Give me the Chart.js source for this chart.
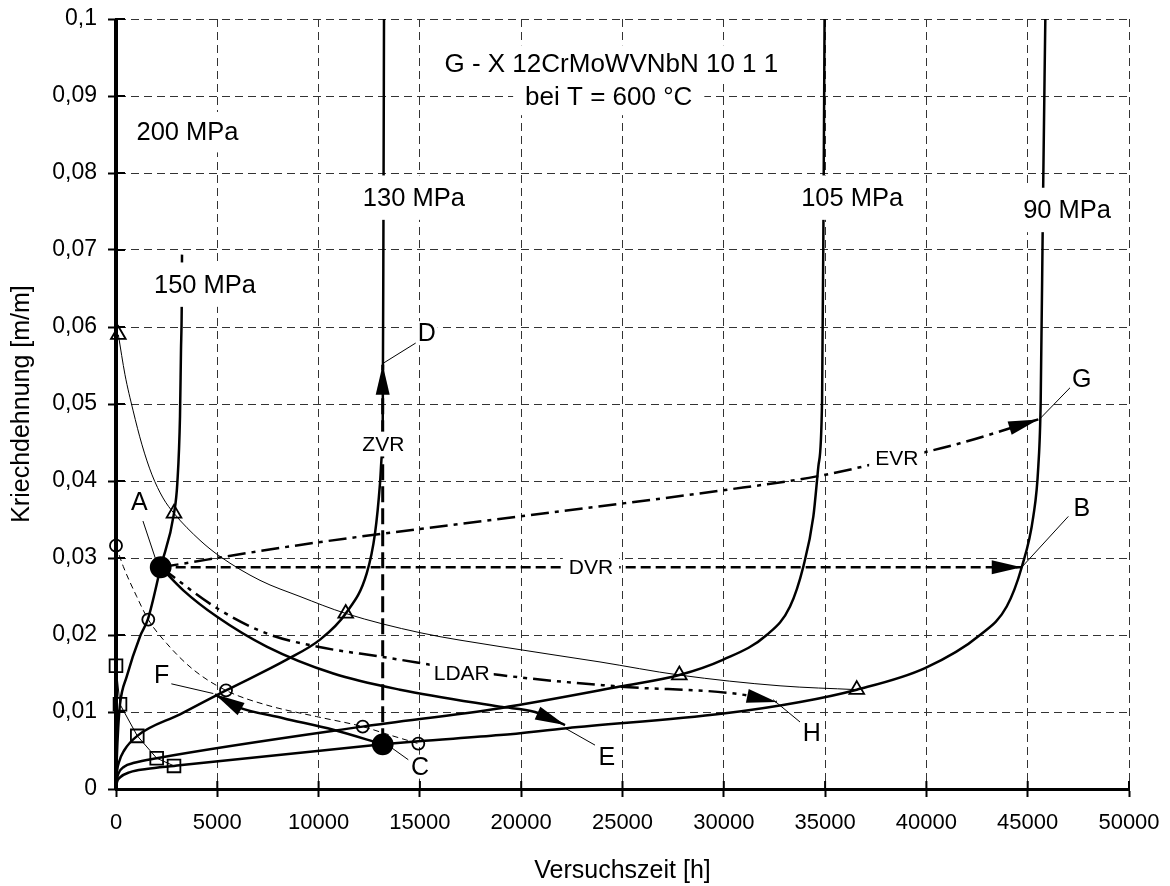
<!DOCTYPE html>
<html>
<head>
<meta charset="utf-8">
<title>Kriechkurven G - X 12CrMoWVNbN 10 1 1</title>
<script src="https://cdn.jsdelivr.net/npm/chart.js@4.4.1/dist/chart.umd.min.js"></script>
<style>
  html, body { margin: 0; padding: 0; background: #fff; }
  #chart-box { width: 1170px; height: 886px; }
</style>
</head>
<body>
<div id="chart-box"><canvas id="creepChart" width="1170" height="886"></canvas></div>
<script>
// Axis ticks
const xTickValues = [0, 5000, 10000, 15000, 20000, 25000, 30000, 35000, 40000, 45000, 50000];
const yTickValues = [0, 0.01, 0.02, 0.03, 0.04, 0.05, 0.06, 0.07, 0.08, 0.09, 0.1];

// Creep curves: [Versuchszeit h, Kriechdehnung m/m]
const curve200 = [[0, 0], [0, 0.1]];
const curve150 = [[0, 0], [40, 0.0040], [110, 0.0080], [197, 0.0110], [528, 0.0146], [1185, 0.0198], [1580, 0.0221],
  [2206, 0.0288], [2863, 0.0358], [3026, 0.0397], [3159, 0.0484], [3208, 0.0570], [3243, 0.0622], [3258, 0.0694]];
const curve130 = [[0, 0], [40, 0.0020], [150, 0.0035], [400, 0.0050], [1051, 0.0069], [3159, 0.0097], [5430, 0.0128],
  [8426, 0.0168], [10070, 0.0194], [11338, 0.0228], [12375, 0.0280], [12784, 0.0332], [13031, 0.0397],
  [13115, 0.0432], [13164, 0.0466], [13204, 0.0765], [13228, 0.1]];
const curve105 = [[0, 0], [30, 0.0010], [120, 0.0020], [400, 0.0029], [900, 0.0034], [2009, 0.0040], [12177, 0.0081],
  [18954, 0.0105], [24877, 0.0133], [27805, 0.0148], [29976, 0.0168], [32117, 0.0200], [33269, 0.0237],
  [33927, 0.0289], [34421, 0.0354], [34668, 0.0419], [34851, 0.0505], [34925, 0.0765], [34974, 0.1]];
const curve90 = [[0, 0], [40, 0.0008], [200, 0.0015], [700, 0.0022], [1500, 0.0026], [2863, 0.0030], [13164, 0.0058],
  [14922, 0.0062], [18954, 0.0070], [22247, 0.0079], [29976, 0.0098], [33770, 0.0113], [36562, 0.0129],
  [39932, 0.0157], [42647, 0.0200], [43964, 0.0237], [44705, 0.0288], [45277, 0.0354], [45524, 0.0419],
  [45642, 0.0505], [45756, 0.0765], [45870, 0.1]];

// Marker series and their thin connecting lines
const triangleMarks = [[115, 0.0590], [2863, 0.0358], [11338, 0.0228], [27805, 0.0148], [36562, 0.0129]];
const circleMarks = [[0, 0.0316], [1594, 0.0220], [5430, 0.0128], [12177, 0.0081], [14922, 0.0059]];
const squareMarks = [[0, 0.0160], [197, 0.0110], [1051, 0.0069], [2009, 0.0040], [2863, 0.0030]];
const triangleLine = [[115, 0.0590], [444, 0.0538], [839, 0.0492], [1283, 0.0447], [1777, 0.0408], [2320, 0.0378],
  [2863, 0.0358], [4146, 0.0323], [5134, 0.0302], [7108, 0.0271], [9082, 0.0250], [11338, 0.0228],
  [15005, 0.0203], [18954, 0.0185], [23890, 0.0165], [27805, 0.0148], [32775, 0.0134], [36562, 0.0129]];
const circleLine = [[0, 0.0316], [360, 0.0289], [1022, 0.0250], [1594, 0.0220], [2503, 0.0189], [3816, 0.0155],
  [5430, 0.0128], [7437, 0.0109], [9906, 0.0094], [12177, 0.0081], [13525, 0.0070], [14922, 0.0059]];

// Points A and C, and the arrows
const stateDots = [[2206, 0.0288], [13164, 0.0058]];
const dvrLine = [[2206, 0.0288], [44705, 0.0288]];
const zvrLine = [[13164, 0.0058], [13164, 0.0551]];
const evrLine = [[2206, 0.0288], [9082, 0.0317], [19941, 0.0354], [29976, 0.0388], [34586, 0.0406], [38536, 0.0429],
  [41660, 0.0449], [45525, 0.0480]];
const ldarLine = [[2206, 0.0288], [4971, 0.0235], [7437, 0.0202], [9906, 0.0185], [13031, 0.0172], [18954, 0.0148],
  [24877, 0.0133], [30800, 0.0123], [32610, 0.0113]];
const eLine = [[2206, 0.0288], [3322, 0.0258], [4971, 0.0224], [7437, 0.0185], [10726, 0.0150], [14018, 0.0129],
  [18954, 0.0107], [20681, 0.0100], [22163, 0.0083]];
const fLine = [[13164, 0.0058], [10726, 0.0077], [8258, 0.0092], [5958, 0.0107], [4887, 0.0123]];

// Text annotations (data coordinates)
const textLabels = [
  { text: 'G - X 12CrMoWVNbN 10 1 1', x: 24450, y: 0.0942, size: 26, padX: 12, padY: 8 },
  { text: 'bei T = 600 °C', x: 24320, y: 0.0899, size: 26, padX: 12, padY: 8 },
  { text: '200 MPa', x: 3529, y: 0.0853, size: 25.5, padX: 4, padY: 10 },
  { text: '150 MPa', x: 4393, y: 0.0655, size: 25.5, padX: 4, padY: 12 },
  { text: '130 MPa', x: 14700, y: 0.0768, size: 25.5, padX: 4, padY: 12 },
  { text: '105 MPa', x: 36338, y: 0.0768, size: 25.5, padX: 4, padY: 12 },
  { text: '90 MPa', x: 46944, y: 0.0752, size: 25.5, padX: 4, padY: 12 },
  { text: 'ZVR', x: 13194, y: 0.0448, size: 21, padX: 2, padY: 4 },
  { text: 'DVR', x: 23446, y: 0.0288, size: 21, padX: 6, padY: 4 },
  { text: 'EVR', x: 38536, y: 0.0429, size: 21, padX: 6, padY: 4 },
  { text: 'LDAR', x: 17064, y: 0.0150, size: 21, padX: 4, padY: 4 },
  { text: 'A', x: 1150, y: 0.0372, size: 25, padX: 2, padY: 2 },
  { text: 'B', x: 47666, y: 0.0365, size: 25, padX: 2, padY: 2 },
  { text: 'C', x: 15005, y: 0.0029, size: 25, padX: 2, padY: 2 },
  { text: 'D', x: 15336, y: 0.0592, size: 25, padX: 2, padY: 2 },
  { text: 'E', x: 24221, y: 0.0042, size: 25, padX: 2, padY: 2 },
  { text: 'F', x: 2256, y: 0.0148, size: 25, padX: 2, padY: 2 },
  { text: 'G', x: 47666, y: 0.0532, size: 25, padX: 2, padY: 2 },
  { text: 'H', x: 34339, y: 0.0072, size: 25, padX: 2, padY: 2 }
];
const leaderLines = [
  [[1331, 0.0348], [1975, 0.0297]],
  [[47005, 0.0354], [44705, 0.0288]],
  [[13525, 0.0055], [14428, 0.0038]],
  [[13194, 0.0553], [14843, 0.0580]],
  [[22163, 0.0079], [23643, 0.0057]],
  [[2665, 0.0137], [4803, 0.0124]],
  [[45610, 0.0481], [47124, 0.0522]],
  [[32430, 0.0116], [33762, 0.0087]]
];

const FONT = "'Liberation Sans', Arial, Helvetica, sans-serif";
Chart.defaults.font.family = FONT;
Chart.defaults.color = '#000';

const toXY = arr => arr.map(([x, y]) => ({ x, y }));

function lineSet(label, pts, opts) {
  return Object.assign({
    label: label,
    data: toXY(pts),
    borderColor: '#000',
    backgroundColor: '#000',
    borderWidth: 2.5,
    pointRadius: 0,
    pointHoverRadius: 0,
    fill: false,
    cubicInterpolationMode: 'monotone',
    clip: false
  }, opts || {});
}

function markSet(label, pts, style, radius, fillColor) {
  return {
    label: label,
    data: toXY(pts),
    showLine: false,
    pointStyle: style,
    pointRadius: radius,
    pointHoverRadius: radius,
    pointBackgroundColor: fillColor || 'rgba(0,0,0,0)',
    pointBorderColor: '#000',
    pointBorderWidth: 1.8,
    clip: false
  };
}

// Canvas background
const whiteBackground = {
  id: 'whiteBackground',
  beforeDraw(chart) {
    const ctx = chart.ctx;
    ctx.save();
    ctx.fillStyle = '#fff';
    ctx.fillRect(0, 0, chart.width, chart.height);
    ctx.restore();
  }
};

// Tick marks that cross the axes (inner half)
const innerTicks = {
  id: 'innerTicks',
  afterDraw(chart) {
    const { ctx, chartArea, scales } = chart;
    ctx.save();
    ctx.strokeStyle = '#000';
    ctx.lineWidth = 2;
    ctx.setLineDash([]);
    ctx.beginPath();
    xTickValues.forEach(v => {
      const px = scales.x.getPixelForValue(v);
      ctx.moveTo(px, chartArea.bottom);
      ctx.lineTo(px, chartArea.bottom - 8);
    });
    yTickValues.forEach(v => {
      const py = scales.y.getPixelForValue(v);
      ctx.moveTo(chartArea.left, py);
      ctx.lineTo(chartArea.left + 9, py);
    });
    ctx.stroke();
    ctx.restore();
  }
};

// Filled arrow heads at the end of flagged datasets
const arrowHeads = {
  id: 'arrowHeads',
  afterDatasetsDraw(chart) {
    const ctx = chart.ctx;
    ctx.save();
    ctx.fillStyle = '#000';
    chart.data.datasets.forEach((ds, i) => {
      if (!ds.arrowHead) return;
      const pts = chart.getDatasetMeta(i).data;
      const a = pts[pts.length - 2], b = pts[pts.length - 1];
      const ang = Math.atan2(b.y - a.y, b.x - a.x);
      const len = 30, hw = 7;
      const cx = Math.cos(ang), sy = Math.sin(ang);
      ctx.beginPath();
      ctx.moveTo(b.x, b.y);
      ctx.lineTo(b.x - len * cx + hw * sy, b.y - len * sy - hw * cx);
      ctx.lineTo(b.x - len * cx - hw * sy, b.y - len * sy + hw * cx);
      ctx.closePath();
      ctx.fill();
    });
    ctx.restore();
  }
};

// Leader lines and text labels with white boxes behind them
const annotations = {
  id: 'annotations',
  afterDatasetsDraw(chart) {
    const { ctx, scales } = chart;
    const X = v => scales.x.getPixelForValue(v);
    const Y = v => scales.y.getPixelForValue(v);
    ctx.save();
    ctx.strokeStyle = '#000';
    ctx.lineWidth = 1;
    ctx.setLineDash([]);
    leaderLines.forEach(([p, q]) => {
      ctx.beginPath();
      ctx.moveTo(X(p[0]), Y(p[1]));
      ctx.lineTo(X(q[0]), Y(q[1]));
      ctx.stroke();
    });
    ctx.textAlign = 'center';
    ctx.textBaseline = 'middle';
    textLabels.forEach(l => {
      ctx.font = l.size + 'px ' + FONT;
      const w = ctx.measureText(l.text).width;
      const h = l.size * 0.8;
      const px = X(l.x), py = Y(l.y);
      ctx.fillStyle = '#fff';
      ctx.fillRect(px - w / 2 - l.padX, py - h / 2 - l.padY, w + 2 * l.padX, h + 2 * l.padY);
      ctx.fillStyle = '#000';
      ctx.fillText(l.text, px, py + 1);
    });
    ctx.restore();
  }
};

const datasets = [
  markSet('A, C', stateDots, 'circle', 10, '#000'),
  markSet('Dreiecke', triangleMarks, 'triangle', 8.5),
  markSet('Kreise', circleMarks, 'circle', 6),
  markSet('Quadrate', squareMarks, 'rect', 9),
  lineSet('ZVR', zvrLine, { tension: 0, cubicInterpolationMode: 'default', borderWidth: 3, borderDash: [16, 6], arrowHead: true }),
  lineSet('DVR', dvrLine, { tension: 0, cubicInterpolationMode: 'default', borderWidth: 2.5, borderDash: [10, 5], arrowHead: true }),
  lineSet('EVR', evrLine, { borderWidth: 2.5, borderDash: [18, 6, 4, 6], arrowHead: true }),
  lineSet('LDAR', ldarLine, { borderWidth: 2.5, borderDash: [18, 6, 4, 6, 4, 6], arrowHead: true }),
  lineSet('E', eLine, { borderWidth: 2.5, arrowHead: true }),
  lineSet('F', fLine, { borderWidth: 2.5, arrowHead: true }),
  lineSet('200 MPa', curve200, { tension: 0, cubicInterpolationMode: 'default', borderWidth: 4 }),
  lineSet('150 MPa', curve150),
  lineSet('130 MPa', curve130),
  lineSet('105 MPa', curve105),
  lineSet('90 MPa', curve90),
  lineSet('Dreieck-Linie', triangleLine, { borderWidth: 1 }),
  lineSet('Kreis-Linie', circleLine, { borderWidth: 1, borderDash: [6, 4] }),
  lineSet('Quadrat-Linie', squareMarks, { borderWidth: 1, tension: 0, cubicInterpolationMode: 'default' })
];

const fmtY = v => {
  const r = Math.round(v * 100) / 100;
  return r === 0 ? '0' : String(r).replace('.', ',');
};

new Chart(document.getElementById('creepChart'), {
  type: 'line',
  data: { datasets: datasets },
  options: {
    responsive: false,
    animation: false,
    devicePixelRatio: 1,
    layout: { padding: { top: 19, right: 41, left: 0, bottom: 0 } },
    plugins: {
      legend: { display: false },
      tooltip: { enabled: false }
    },
    scales: {
      x: {
        type: 'linear',
        min: 0,
        max: 50000,
        afterBuildTicks: s => { s.ticks = xTickValues.map(v => ({ value: v })); },
        afterFit: s => { s.height = 97; s.paddingLeft = 0; s.paddingRight = 0; },
        ticks: {
          autoSkip: false,
          maxRotation: 0,
          padding: 13,
          font: { size: 22 },
          callback: v => String(v)
        },
        grid: { color: '#333', lineWidth: 1, tickLength: 8, tickColor: '#000', tickWidth: 2, tickBorderDash: [] },
        border: { display: true, color: '#000', width: 3, dash: [8, 5] },
        title: { display: true, text: 'Versuchszeit [h]', font: { size: 25 }, padding: { top: 0, bottom: 0 } }
      },
      y: {
        type: 'linear',
        min: 0,
        max: 0.1,
        afterBuildTicks: s => { s.ticks = yTickValues.map(v => ({ value: v })); },
        afterFit: s => { s.width = 116; s.paddingTop = 0; s.paddingBottom = 0; },
        ticks: {
          autoSkip: false,
          padding: 11,
          font: { size: 23 },
          callback: v => fmtY(v)
        },
        grid: { color: '#333', lineWidth: 1, tickLength: 8, tickColor: '#000', tickWidth: 2, tickBorderDash: [] },
        border: { display: true, color: '#000', width: 3, dash: [8, 5] },
        title: { display: true, text: 'Kriechdehnung [m/m]', font: { size: 25 }, padding: { top: 7, bottom: 0 } }
      }
    }
  },
  plugins: [whiteBackground, innerTicks, arrowHeads, annotations]
});
</script>
</body>
</html>
